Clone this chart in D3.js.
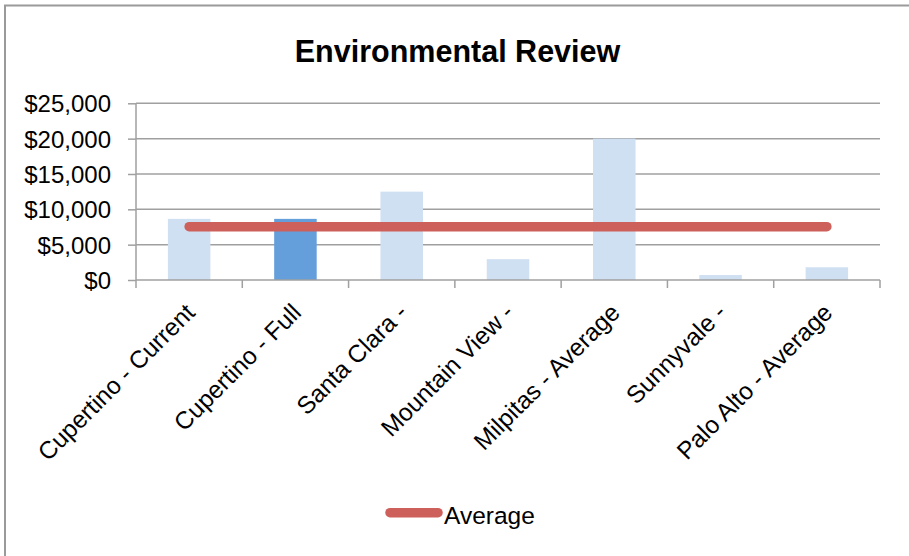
<!DOCTYPE html>
<html><head><meta charset="utf-8">
<script src="https://cdn.jsdelivr.net/npm/d3@7/dist/d3.min.js"></script>
<style>body{margin:0;background:#fff}svg{display:block}text{font-family:"Liberation Sans",Arial,sans-serif}</style>
</head><body><svg id="c" width="909" height="556"></svg>
<script>
const categories = ["Cupertino - Current","Cupertino - Full","Santa Clara -","Mountain View -","Milpitas - Average","Sunnyvale -","Palo Alto - Average"];
const values = [8650, 8650, 12500, 2950, 20000, 700, 1800];
const averageValues = [7550, 7550, 7550, 7550, 7550, 7550, 7550];
const highlight = [false, true, false, false, false, false, false];
const yTicks = [0, 5000, 10000, 15000, 20000, 25000];
const title = "Environmental Review";
const legendLabel = "Average";

const svg = d3.select("#c");
const m = {left:136, right:880, top:103.3, bottom:280};
const x = d3.scaleBand().domain(categories).range([m.left, m.right]).paddingInner(0.6).paddingOuter(0.3);
const y = d3.scaleLinear().domain([0, 25000]).range([m.bottom, m.top]);

// chart border
svg.append("path").attr("d","M5,556 V5.5 H909").attr("fill","none").attr("stroke","#9a9a9a").attr("stroke-width",2);

svg.append("text").attr("x",457.5).attr("y",62).attr("text-anchor","middle")
  .attr("font-size",30.5).attr("font-weight","bold").text(title);

// gridlines
svg.append("g").selectAll("line").data(yTicks.filter(d=>d>0)).join("line")
  .attr("x1",m.left).attr("x2",m.right).attr("y1",d=>y(d)).attr("y2",d=>y(d))
  .attr("stroke","#a0a0a0").attr("stroke-width",1.5);

// y axis
const yAxis = d3.axisLeft(y).tickValues(yTicks).tickSize(8).tickPadding(17)
  .tickFormat(d=>"$"+d3.format(",")(d));
const ya = svg.append("g").attr("transform",`translate(${m.left},0)`).call(yAxis);
ya.select(".domain").attr("stroke","#a0a0a0").attr("stroke-width",1.5).attr("d",`M0,${m.top}V${m.bottom}`);
ya.selectAll(".tick line").attr("stroke","#a0a0a0").attr("stroke-width",1.5);
ya.selectAll(".tick text").attr("font-size",24).attr("fill","#000").attr("dy","0.36em")
  .style("font-family",'"Liberation Sans",Arial,sans-serif');

// bars
svg.append("g").selectAll("rect").data(categories).join("rect")
  .attr("x",d=>x(d)).attr("width",x.bandwidth())
  .attr("y",(d,i)=>y(values[i])).attr("height",(d,i)=>y(0)-y(values[i]))
  .attr("fill",(d,i)=>highlight[i]?"#659fdb":"#cfe0f3");

// x axis
const step = (m.right-m.left)/categories.length;
const xTickPos = d3.range(categories.length+1).map(i=>m.left+i*step);
svg.append("line").attr("x1",m.left).attr("x2",m.right).attr("y1",m.bottom).attr("y2",m.bottom)
  .attr("stroke","#a0a0a0").attr("stroke-width",1.5);
svg.append("g").selectAll("line").data(xTickPos).join("line")
  .attr("x1",d=>d).attr("x2",d=>d).attr("y1",m.bottom).attr("y2",m.bottom+8)
  .attr("stroke","#a0a0a0").attr("stroke-width",1.5);
svg.append("g").selectAll("text").data(categories).join("text")
  .attr("transform",d=>`translate(${x(d)+x.bandwidth()/2+1},${m.bottom+28}) rotate(-45)`)
  .attr("text-anchor","end").attr("dy","0.35em").attr("font-size",24.5).text(d=>d);

// average line
const line = d3.line().x((d,i)=>x(categories[i])+x.bandwidth()/2).y(d=>y(d));
svg.append("path").datum(averageValues).attr("d",line).attr("fill","none")
  .attr("stroke","#cd605a").attr("stroke-width",9.5).attr("stroke-linecap","round");

// legend
svg.append("line").attr("x1",390).attr("x2",438).attr("y1",512.7).attr("y2",512.7)
  .attr("stroke","#cd605a").attr("stroke-width",9.5).attr("stroke-linecap","round");
svg.append("text").attr("x",444).attr("y",524).attr("font-size",24.5).text(legendLabel);
</script></body></html>
